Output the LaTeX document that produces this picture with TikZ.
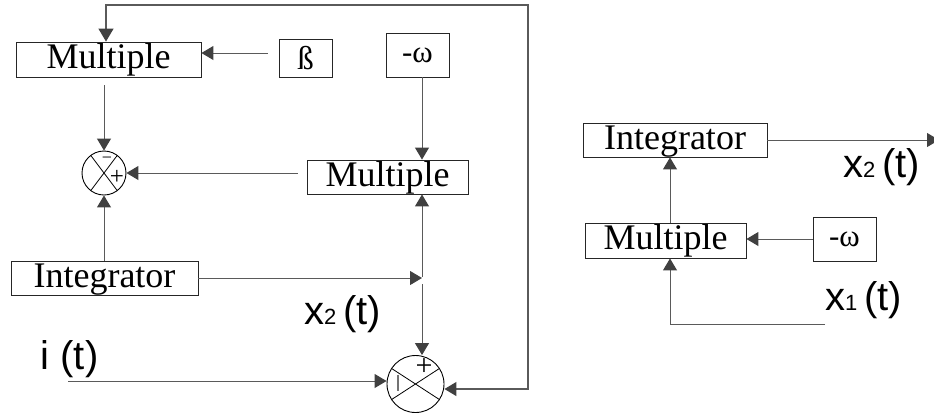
\documentclass[tikz,border=0pt]{standalone}
\usepackage{fontspec}
\setmainfont{Liberation Serif}
\newfontfamily\labfont{Liberation Sans}
\usetikzlibrary{arrows.meta,calc}
\definecolor{linec}{HTML}{5A5A5A}
\definecolor{tipc}{HTML}{404040}
\begin{document}
\begin{tikzpicture}[x=1pt,y=-1pt,
  blk/.style={draw=black!85, line width=0.9pt, inner sep=0pt, text height=18pt, text depth=0pt, font=\fontsize{36}{36}\selectfont},
  small/.style={draw=black!85, line width=0.9pt, inner sep=0pt},
  sumc/.style={draw=black, line width=0.9pt, circle, inner sep=0pt},
  conn/.style={draw=linec, line width=1pt, -{Triangle[length=12pt,width=14pt,color=tipc]}},
  both/.style={draw=linec, line width=1.3pt, {Triangle[length=12pt,width=14pt,color=tipc]}-{Triangle[length=13pt,width=15pt,color=tipc]}},
  lab/.style={inner sep=0pt, anchor=base west, font=\labfont\fontsize{40}{40}\selectfont},
  sign/.style={inner sep=0pt, font=\fontsize{25}{25}\selectfont}
]
\useasboundingbox (0,0) rectangle (934,416);

% ---------- left diagram ----------
\node[blk, minimum width=185, minimum height=35] (m1) at (108.5,59.5) {Multiple};
\node[small, minimum width=53, minimum height=38, font=\fontsize{33}{33}\selectfont] (beta) at (305.5,58) {ß};
\node[small, minimum width=63, minimum height=44, font=\fontsize{31}{31}\selectfont] (w1) at (417.5,55) {-ω};
\node[blk, minimum width=161, minimum height=34] (m2) at (387.5,177) {Multiple};
\node[blk, minimum width=187, minimum height=34] (int1) at (104.5,278) {Integrator};

\node[sumc, minimum size=44] (sum1) at (104,173) {};
\draw[line width=0.8pt] ($(sum1.center)+(127:22)$) -- ($(sum1.center)+(-53:22)$);
\draw[line width=0.8pt] ($(sum1.center)+(53:22)$) -- ($(sum1.center)+(233:22)$);
\node[sign, font=\fontsize{18}{18}\selectfont] (sum1m) at (107,160) {−};
\node[sign] (sum1p) at (117,177) {+};

\node[sumc, minimum size=57] (sum2) at (415.5,384) {};
\draw[line width=0.8pt] ($(sum2.center)+(147:28.5)$) -- ($(sum2.center)+(-33:28.5)$);
\draw[line width=0.8pt] ($(sum2.center)+(33:28.5)$) -- ($(sum2.center)+(213:28.5)$);
\node[sign, font=\fontsize{30}{30}\selectfont] (sum2p) at (424,367) {+};
\coordinate (barT) at (398,375);
\coordinate (barB) at (398,391);
\draw[draw=black!55, line width=1.4pt] (barT) -- (barB);

\coordinate (vx) at (422,0);
\coordinate (jn) at (422,277);
\coordinate (fbA) at (528,389);
\coordinate (fbB) at (528,5);
\coordinate (fbC) at (106,5);
\coordinate (iS) at (68,381);

\draw[both] (fbA -| sum2.east) -- (fbA) -- (fbB) -- (fbC) -- (fbC |- m1.north);
\draw[conn] ([xshift=-11pt,yshift=5pt]beta.west) -- ([yshift=5pt]beta.west -| m1.east);
\draw[conn, shorten <=8pt] (sum1 |- m1.south) -- (sum1.north);
\draw[conn] (vx |- w1.south) -- (vx |- m2.north);
\draw[conn, shorten <=9pt] (sum1 -| m2.west) -- (sum1.east);
\draw[conn] (sum1 |- int1.north) -- (sum1.south);
\draw[conn] (int1.east) -- (int1.east -| vx);
\draw[conn] (jn) -- (jn |- m2.south);
\draw[conn] ([yshift=-7pt]jn) -- (jn |- sum2.north);
\draw[conn] (iS) -- (iS -| sum2.west);

\node[lab] (x2l) at (304,324) {x{\fontsize{22}{22}\selectfont 2}\,(t)};
\node[lab] (il) at (40.5,369) {i (t)};

% ---------- right diagram ----------
\node[blk, minimum width=184, minimum height=34] (int2) at (675,140) {Integrator};
\node[blk, minimum width=161, minimum height=35] (m3) at (665.5,240.5) {Multiple};
\node[small, minimum width=63, minimum height=44, font=\fontsize{31}{31}\selectfont] (w2) at (844.5,239) {-ω};

\coordinate (vr) at (670,0);
\coordinate (outR) at (939,139);
\coordinate (x1s) at (825,324);

\draw[conn] (int2.east) -- (int2.east -| outR);
\draw[conn] (vr |- m3.north) -- (vr |- int2.south);
\draw[conn] (w2.west) -- (w2.west -| m3.east);
\draw[conn] (x1s) -- (x1s -| vr) -- (vr |- m3.south);

\node[lab] (x2r) at (843,177) {x{\fontsize{22}{22}\selectfont 2}\,(t)};
\node[lab] (x1r) at (825,310) {x{\fontsize{22}{22}\selectfont 1}\,(t)};
\end{tikzpicture}
\end{document}
